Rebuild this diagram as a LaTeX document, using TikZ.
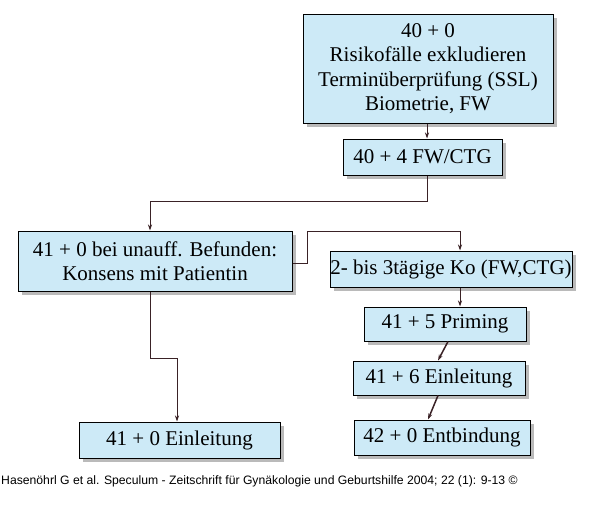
\documentclass[tikz,border=0pt]{standalone}
\usepackage{fontspec}
\setmainfont{Liberation Serif}
\newfontfamily\capfont{Liberation Sans}
\usetikzlibrary{arrows.meta,shadows}
\definecolor{boxblue}{HTML}{CDEAF7}
\definecolor{lineclr}{HTML}{3A2226}
\tikzset{
 bx/.style={draw=black, line width=1pt, fill=boxblue, align=center, inner sep=0pt,
   font=\fontsize{21}{24.5}\selectfont, drop shadow={shadow xshift=4pt, shadow yshift=-4pt, fill=black!45, opacity=0.6}},
 con/.style={draw=lineclr, line width=1pt, -{Stealth[length=6pt,width=4pt]}},
}
\begin{document}
\begin{tikzpicture}[x=1pt,y=-1pt]
\useasboundingbox (0,0) rectangle (600,531);
\node[bx, minimum width=250pt, minimum height=109pt] (b1) at (428,68.5) {40 + 0\\Risikofälle exkludieren\\Terminüberprüfung (SSL)\\Biometrie, FW};
\node[bx, minimum width=159pt, minimum height=36pt] (b2) at (422.5,157) {40 + 4 FW/CTG};
\node[bx, minimum width=274pt, minimum height=60pt] (b3) at (155,261) {41 + 0 bei unauff. Befunden:\\Konsens mit Patientin};
\node[bx, minimum width=242pt, minimum height=36pt] (b4) at (451,269) {2- bis 3tägige Ko (FW,CTG)};
\node[bx, minimum width=162pt, minimum height=34pt] (b5) at (445,324) {41 + 5 Priming};
\node[bx, minimum width=172pt, minimum height=34pt] (b6) at (439,378) {41 + 6 Einleitung};
\node[bx, minimum width=176pt, minimum height=35pt] (b7) at (442,437.5) {42 + 0 Entbindung};
\node[bx, minimum width=201pt, minimum height=36pt] (b8) at (179.5,440) {41 + 0 Einleitung};
\node[anchor=west, inner sep=0pt, font=\capfont\fontsize{12.2}{14}\selectfont] (cap) at (1,481)
 {Hasenöhrl G et al. Speculum - Zeitschrift für Gynäkologie und Geburtshilfe 2004; 22 (1): 9-13 ©};
\draw[con] (b1.south -| 427,0) -- (b2.north -| 427,0);
\draw[con] (b2.south -| 427,0) -- (427,201) -- (150,201) -- (b3.north -| 150,0);
\draw[con] (b3.east |- 0,263) -- (307,263) -- (307,231) -- (460,231) -- (b4.north -| 460,0);
\draw[con] (b4.south -| 460,0) -- (b5.north -| 460,0);
\draw[con, line width=1.5pt] (b5.south -| 448,0) -- (b6.north -| 438,0);
\draw[con, line width=1.5pt] (b6.south -| 438,0) -- (b7.north -| 428,0);
\draw[con] (b3.south -| 150,0) -- (150,358) -- (177,358) -- (b8.north -| 177,0);
\end{tikzpicture}
\end{document}
